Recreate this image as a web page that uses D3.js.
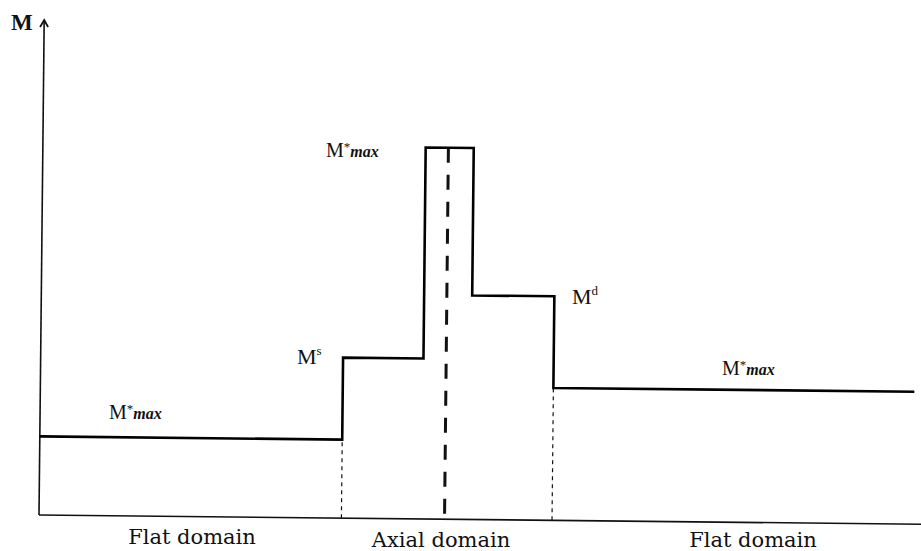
<!DOCTYPE html>
<html>
<head>
<meta charset="utf-8">
<script src="https://cdn.jsdelivr.net/npm/d3@7"></script>
<style>
  html, body { margin: 0; padding: 0; background: #fff; }
  svg { display: block; }
  text { font-family: "Liberation Serif", "DejaVu Serif", serif; fill: #111; }
</style>
</head>
<body>
<div id="chart"></div>
<script>
// breakpoints along the section (0..100) and moment level of each segment
const stepX = [0, 34.6, 43.8, 49.3, 58.7, 100];
const stepM = [16.2, 33.1, 76.6, 46.2, 27.3];
const domainNames = ["Flat domain", "Axial domain", "Flat domain"];
const domainBounds = [0, 34.6, 58.7, 100];
const axisLine = 46.4;

const width = 921, height = 551;

const svg = d3.select("#chart").append("svg")
    .attr("width", width)
    .attr("height", height);

const x = d3.scaleLinear().domain([0, 100]).range([39, 913]);
const y = d3.scaleLinear().domain([0, 100]).range([515, 30]);

// scanned figure is slightly tilted
const plot = svg.append("g")
    .attr("transform", "rotate(0.6, 40, 515)");

// axes
plot.append("line")
    .attr("x1", x(0)).attr("x2", x(102))
    .attr("y1", y(0)).attr("y2", y(0))
    .attr("stroke", "#111").attr("stroke-width", 1.6);

plot.append("line")
    .attr("x1", x(0)).attr("x2", x(0))
    .attr("y1", y(0)).attr("y2", 21)
    .attr("stroke", "#111").attr("stroke-width", 1.6);

plot.append("path")
    .attr("d", `M${x(0) - 4},${27} L${x(0)},${20} L${x(0) + 4},${27}`)
    .attr("fill", "none").attr("stroke", "#111").attr("stroke-width", 1.8);

// thin dashed domain boundaries
const inner = domainBounds.slice(1, -1);
plot.selectAll(".bound")
    .data(inner)
    .enter()
  .append("line")
    .attr("class", "bound")
    .attr("x1", d => x(d)).attr("x2", d => x(d))
    .attr("y1", y(0))
    .attr("y2", d => {
        const i = stepX.indexOf(d);
        return y(Math.min(stepM[i - 1], stepM[i]));
    })
    .attr("stroke", "#111")
    .attr("stroke-width", 1.2)
    .attr("stroke-dasharray", "4,4");

// thick dashed centre line
plot.append("line")
    .attr("x1", x(axisLine)).attr("x2", x(axisLine))
    .attr("y1", y(stepM[2])).attr("y2", y(0))
    .attr("stroke", "#111")
    .attr("stroke-width", 3)
    .attr("stroke-dasharray", "15,12");

// step line
const pts = stepM.map((m, i) => [stepX[i], m]);
pts.push([stepX[stepX.length - 1], stepM[stepM.length - 1]]);

const line = d3.line()
    .x(d => x(d[0]))
    .y(d => y(d[1]))
    .curve(d3.curveStepAfter);

plot.append("path")
    .datum(pts)
    .attr("d", line)
    .attr("fill", "none")
    .attr("stroke", "#000")
    .attr("stroke-width", 2.6)
    .attr("stroke-linejoin", "miter");

// labels
svg.append("text")
    .attr("x", 11).attr("y", 30)
    .attr("font-size", 23)
    .attr("font-weight", "bold")
    .text("M");

function mStar(px, py) {
    const t = svg.append("text").attr("x", px).attr("y", py).attr("font-size", 20);
    t.append("tspan").text("M");
    t.append("tspan").attr("font-size", 13).attr("dy", -6).text("*");
    t.append("tspan").attr("dy", 6).attr("font-size", 16)
        .attr("font-style", "italic").attr("font-weight", "bold").text("max");
}
mStar(109, 419);
mStar(326, 157);
mStar(722, 375);

function mSup(px, py, sup) {
    const t = svg.append("text").attr("x", px).attr("y", py).attr("font-size", 22);
    t.append("tspan").text("M");
    t.append("tspan").attr("font-size", 13).attr("dy", -9).text(sup);
}
mSup(297, 364, "s");
mSup(572, 304, "d");

const domainCentres = [192, 441, 753];
const domainBase = [544, 547, 547];
svg.selectAll(".dom")
    .data(domainNames)
    .enter()
  .append("text")
    .attr("class", "dom")
    .attr("x", (d, i) => domainCentres[i])
    .attr("y", (d, i) => domainBase[i])
    .attr("text-anchor", "middle")
    .attr("font-size", 21)
    .style("font-family", "'DejaVu Serif', serif")
    .text(d => d);
</script>
</body>
</html>
